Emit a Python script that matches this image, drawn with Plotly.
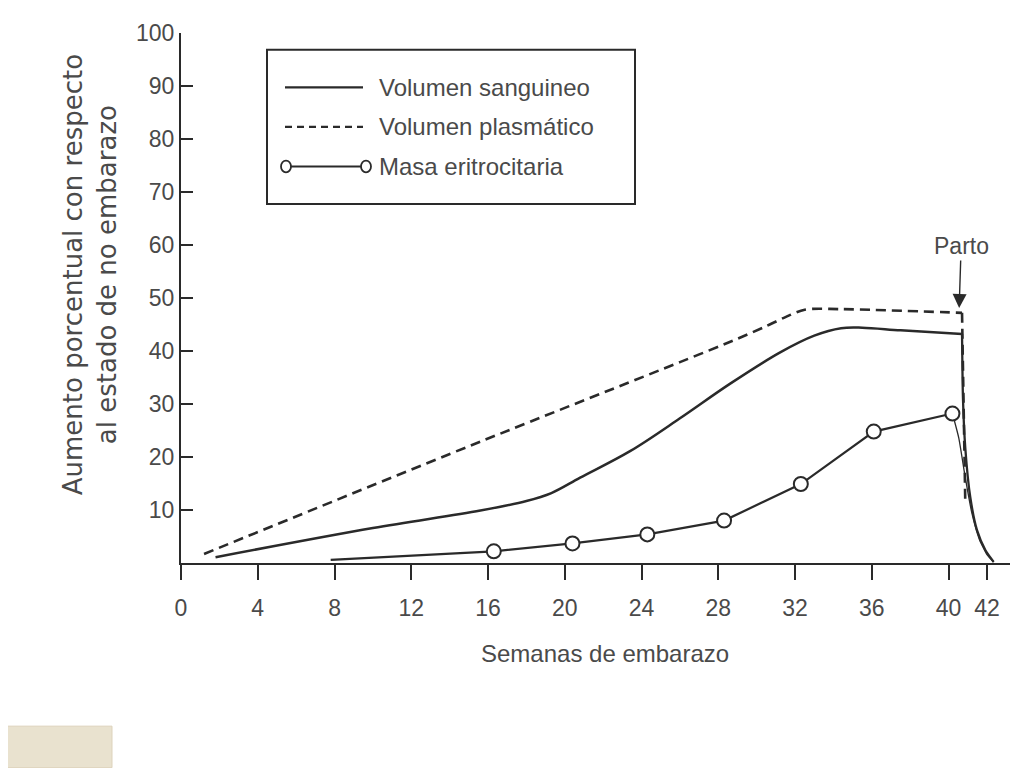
import plotly.graph_objects as go

# ---------------- data ----------------
# Volumen sanguineo: pregnancy curve and post-partum drop
weeks_sang = [1.8, 10.0, 15.6, 18.0, 19.3, 20.8, 23.4, 26.0, 28.6, 31.2, 33.0, 34.4, 35.5, 37.5, 40.7]
vol_sang   = [1.1, 6.6, 9.9, 11.7, 13.2, 16.1, 21.1, 27.3, 33.8, 39.7, 42.9, 44.3, 44.4, 43.9, 43.2]
weeks_sang_drop = [40.7, 40.75, 40.87, 41.13, 41.48, 41.92, 42.35]
vol_sang_drop   = [43.2, 31.0, 21.7, 12.4, 6.2, 2.4, 0.2]

# Volumen plasmático
weeks_plasma = [1.2, 15.6, 26.0, 29.0, 30.5, 31.5, 32.5, 34.4, 40.7]
vol_plasma   = [1.7, 22.9, 37.9, 42.3, 44.7, 46.4, 47.8, 47.9, 47.2]
weeks_plasma_drop = [40.7, 40.8, 40.87]
vol_plasma_drop   = [47.2, 30.0, 11.2]

# Masa eritrocitaria
weeks_masa_line = [7.8, 12.0, 16.3, 20.4, 24.3, 28.3, 32.3, 36.1, 40.2]
masa_line       = [0.6, 1.4, 2.2, 3.7, 5.4, 8.0, 14.9, 24.8, 28.2]
weeks_masa_pts = [16.3, 20.4, 24.3, 28.3, 32.3, 36.1, 40.2]
masa_pts       = [2.2, 3.7, 5.4, 8.0, 14.9, 24.8, 28.2]
weeks_masa_drop = [40.2, 40.53, 40.87, 41.22, 41.6, 42.0, 42.35]
masa_drop       = [28.2, 23.6, 16.1, 9.3, 4.5, 1.6, 0.2]

x_ticks = [0, 4, 8, 12, 16, 20, 24, 28, 32, 36, 40, 42]
y_ticks = [10, 20, 30, 40, 50, 60, 70, 80, 90, 100]

legend_labels = ["Volumen sanguineo", "Volumen plasmático", "Masa eritrocitaria"]
x_title = "Semanas de embarazo"
y_title = "Aumento porcentual con respecto<br>al estado de no embarazo"
parto_label = "Parto"
parto_week, parto_value = 40.55, 48.1

# ---------------- layout geometry ----------------
OFF = 8  # page body margin
W, H = 1024, 768
L, T = 181 - OFF, 27 - OFF
R = W - (1010 - OFF)
B = H - (563 - OFF)
PW, PH = W - L - R, H - T - B

def px(xp):
    return (xp - OFF - L) / PW

def py(yp):
    return (H - B - (yp - OFF)) / PH

INK = "#2a2a2a"
TXT = "#4a4a4a"
FONT = "Liberation Sans, Arial, sans-serif"

fig = go.Figure()

def add_line(x, y, width, dash=None, spline=None):
    line = dict(color=INK, width=width)
    if dash:
        line["dash"] = dash
    if spline is not None:
        line["shape"] = "spline"
        line["smoothing"] = spline
    fig.add_trace(go.Scatter(x=x, y=y, mode="lines", line=line,
                             showlegend=False, hoverinfo="skip"))

add_line(weeks_plasma, vol_plasma, 2.6, dash="10px,6px", spline=0.8)
add_line(weeks_plasma_drop, vol_plasma_drop, 2.6, dash="10px,6px")
add_line(weeks_sang, vol_sang, 2.5, spline=1.0)
add_line(weeks_sang_drop, vol_sang_drop, 2.3, spline=0.6)
add_line(weeks_masa_drop, masa_drop, 1.3, spline=0.5)
add_line(weeks_masa_line, masa_line, 2.2)
fig.add_trace(go.Scatter(x=weeks_masa_pts, y=masa_pts, mode="markers",
                         marker=dict(symbol="circle", size=14, color="white",
                                     line=dict(color=INK, width=2)),
                         showlegend=False, hoverinfo="skip"))

# ---------------- manual legend ----------------
shapes = []
annotations = []
shapes.append(dict(type="rect", xref="paper", yref="paper",
                   x0=px(267), x1=px(635), y0=py(200), y1=py(44),
                   line=dict(color=INK, width=2), fillcolor="white", layer="below"))
rows_y = [82, 122, 162]
shapes.append(dict(type="line", xref="paper", yref="paper", x0=px(285), x1=px(363),
                   y0=py(rows_y[0]), y1=py(rows_y[0]), line=dict(color=INK, width=2.2)))
shapes.append(dict(type="line", xref="paper", yref="paper", x0=px(285), x1=px(363),
                   y0=py(rows_y[1]), y1=py(rows_y[1]), line=dict(color=INK, width=2.2, dash="7px,5px")))
shapes.append(dict(type="line", xref="paper", yref="paper", x0=px(291), x1=px(361),
                   y0=py(rows_y[2]), y1=py(rows_y[2]), line=dict(color=INK, width=2)))
for cx in (286, 366):
    shapes.append(dict(type="circle", xref="paper", yref="paper",
                       x0=px(cx - 5), x1=px(cx + 5), y0=py(rows_y[2] + 6), y1=py(rows_y[2] - 6),
                       line=dict(color=INK, width=1.8), fillcolor="white"))
for lab, ry in zip(legend_labels, rows_y):
    annotations.append(dict(text=lab, xref="paper", yref="paper", x=px(377), y=py(ry),
                            xanchor="left", yanchor="middle", showarrow=False,
                            font=dict(family=FONT, size=24, color=TXT)))

# bottom-left decorative strip of the slide
shapes.append(dict(type="rect", xref="paper", yref="paper",
                   x0=px(0), x1=px(112), y0=py(770), y1=py(728),
                   line=dict(color="#ddd3bb", width=1), fillcolor="#e9e2cf", layer="below"))

# axis titles
annotations.append(dict(text=x_title, xref="paper", yref="paper", x=px(605), y=py(655),
                        xanchor="center", yanchor="middle", showarrow=False,
                        font=dict(family=FONT, size=24, color=TXT)))
annotations.append(dict(text=y_title, xref="paper", yref="paper", x=px(90), y=py(272),
                        xanchor="center", yanchor="middle", showarrow=False, textangle=-90,
                        font=dict(family="DejaVu Sans, sans-serif", size=26, color=TXT)))

# Parto arrow
annotations.append(dict(text=parto_label, x=parto_week, y=parto_value, xref="x", yref="y",
                        showarrow=True, arrowhead=2, arrowsize=2.0, arrowwidth=1.4, arrowcolor=INK,
                        ax=2, ay=-62, font=dict(family=FONT, size=23, color=TXT)))

fig.update_layout(
    width=W, height=H,
    margin=dict(l=L, r=R, t=T, b=B, pad=0),
    paper_bgcolor="white", plot_bgcolor="white",
    shapes=shapes, annotations=annotations,
    showlegend=False,
    xaxis=dict(range=[0, 43.2], tickvals=x_ticks, ticktext=[str(v) for v in x_ticks],
               showgrid=False, zeroline=False, showline=True, linecolor=INK, linewidth=2,
               ticks="outside", ticklen=15, tickwidth=1.6, tickcolor=INK, ticklabelstandoff=8,
               tickfont=dict(family=FONT, size=23, color=TXT), fixedrange=True),
    yaxis=dict(range=[0, 100], tickvals=y_ticks, ticktext=[str(v) for v in y_ticks],
               showgrid=False, zeroline=False, showline=True, linecolor=INK, linewidth=2,
               ticks="inside", ticklen=12, tickwidth=1.6, tickcolor=INK,
               tickfont=dict(family=FONT, size=23, color=TXT), fixedrange=True),
)

fig.write_html("out.html")
